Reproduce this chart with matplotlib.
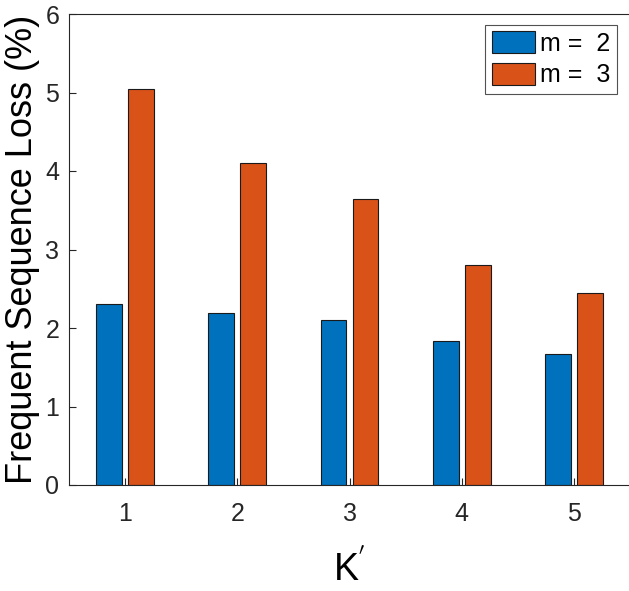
import numpy as np
import matplotlib.pyplot as plt
from matplotlib.patches import Patch

# values
k_values = [1, 2, 3, 4, 5]
loss_m2 = [2.31, 2.19, 2.10, 1.83, 1.67]
loss_m3 = [5.05, 4.10, 3.64, 2.80, 2.44]
series_labels = ["m =  2", "m =  3"]

BLUE = "#0072BD"
ORANGE = "#D95319"
AXIS = "#262626"

plt.rcParams["font.family"] = ["Liberation Sans", "DejaVu Sans"]

fig = plt.figure(figsize=(6.29, 5.91), dpi=100)
ax = fig.add_axes([69 / 629, 106 / 591, 561 / 629, 471 / 591])

x = np.array(k_values, dtype=float)
w = 0.23
off = 0.143
ax.bar(x - off, loss_m2, width=w, color=BLUE, edgecolor="#1a1a1a", linewidth=0.8)
ax.bar(x + off, loss_m3, width=w, color=ORANGE, edgecolor="#1a1a1a", linewidth=0.8)

ax.set_xlim(0.5, 5.5)
ax.set_ylim(0, 6)
ax.set_xticks(k_values)
ax.set_yticks(range(0, 7))
ax.tick_params(direction="in", length=5, width=0.8, colors=AXIS,
               labelsize=18, top=False, right=False)
ax.tick_params(axis="x", pad=12)
ax.tick_params(axis="y", pad=7)
for sp in ax.spines.values():
    sp.set_color(AXIS)
    sp.set_linewidth(0.8)

ax.set_ylabel("Frequent Sequence Loss (%)", fontsize=26, color="black", labelpad=4)
ax.set_xlabel(r"K$^{'}$", fontsize=27, color="black", labelpad=17)

handles = [Patch(facecolor=BLUE, edgecolor="#1a1a1a", linewidth=0.8),
           Patch(facecolor=ORANGE, edgecolor="#1a1a1a", linewidth=0.8)]
leg = ax.legend(handles, series_labels, loc="upper right", fontsize=18,
                frameon=True, fancybox=False, handlelength=1.75, handleheight=0.95,
                handletextpad=0.2, borderpad=0.25, labelspacing=0.3,
                borderaxespad=0.0, bbox_to_anchor=(617 / 629, 566 / 591),
                bbox_transform=fig.transFigure)
leg.get_frame().set_edgecolor(AXIS)
leg.get_frame().set_linewidth(0.8)

fig.savefig("out.png", dpi=100)
